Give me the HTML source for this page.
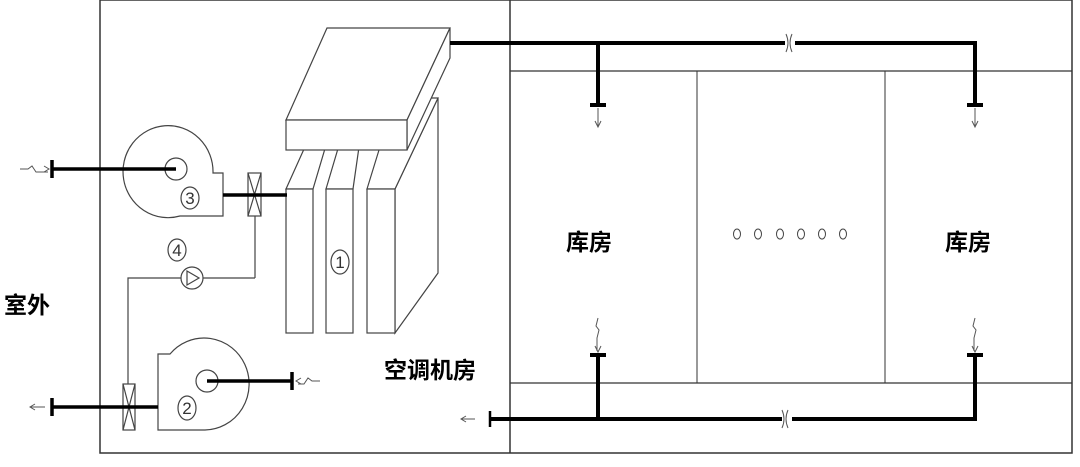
<!DOCTYPE html>
<html><head><meta charset="utf-8"><style>
body{margin:0;background:#fff;width:1080px;height:462px;overflow:hidden}
svg text{font-family:"Liberation Sans","Noto Sans CJK SC",sans-serif}
</style></head><body>
<svg width="1080" height="462" viewBox="0 0 1080 462" xmlns="http://www.w3.org/2000/svg">
<g fill="none" stroke="#333" stroke-width="1.5">
<rect x="100" y="0" width="972" height="453"/>
<line x1="510" y1="0" x2="510" y2="453"/>
<line x1="510" y1="71" x2="1072" y2="71" stroke-width="1.2"/>
<line x1="510" y1="383" x2="1072" y2="383" stroke-width="1.2"/>
<line x1="697" y1="71" x2="697" y2="383" stroke-width="1"/>
<line x1="885" y1="71" x2="885" y2="383" stroke-width="1"/>
</g>
<g fill="#fff" stroke="#444" stroke-width="1.2">
<polygon points="395,189 438,98 438,273 395,333"/>
<polygon points="286,189 327,98 340,98 313,189"/>
<polygon points="326,189 353,98 366,98 353,189"/>
<polygon points="367,189 395,98 438,98 395,189"/>
<rect x="286" y="189" width="27" height="144"/>
<rect x="326" y="189" width="27" height="144"/>
<rect x="367" y="189" width="28" height="144"/>
<polygon points="286,120 327,28 450,28 407,120"/>
<polygon points="407,120 450,28 450,58 407,150"/>
<rect x="286" y="120" width="121" height="30"/>
</g>
<g stroke="#000" stroke-width="4" fill="none">
<polyline points="450,43 975,43 975,105"/>
<line x1="598" y1="43" x2="598" y2="105"/>
<line x1="590" y1="105" x2="606" y2="105"/>
<line x1="967" y1="105" x2="983" y2="105"/>
<polyline points="490,419 975,419 975,355"/>
<line x1="598" y1="419" x2="598" y2="355"/>
<line x1="590" y1="355" x2="606" y2="355"/>
<line x1="967" y1="355" x2="983" y2="355"/>
<line x1="490" y1="411" x2="490" y2="427" stroke-width="2.5"/>
</g>
<g stroke="#fff" stroke-width="6"><line x1="785" y1="43" x2="795" y2="43"/><line x1="782" y1="419" x2="792" y2="419"/></g>
<g stroke="#555" stroke-width="1" fill="none">
<path d="M786,34 q4,9 0,18 M792,34 q-4,9 0,18"/>
<path d="M782,410 q4,9 0,18 M788,410 q-4,9 0,18"/>
<path d="M598,108 v18 M595,121 l3,6 3,-6"/>
<path d="M975,108 v18 M972,121 l3,6 3,-6"/>
<path d="M598,318 l-2,8 3,4 -2,8 v13 M595,346 l3,6 3,-6"/>
<path d="M975,318 l-2,8 3,4 -2,8 v13 M972,346 l3,6 3,-6"/>
<path d="M475,419 h-14 M466,416 l-5,3 5,3"/>
</g>
<g stroke="#444" stroke-width="1.2" fill="none">
<path d="M213,173 A45,46 0 1 0 180,216 L223,216 L223,173 Z"/>
<circle cx="176" cy="169" r="11"/>
<rect x="248" y="173" width="13" height="43"/>
<path d="M248,173 L261,216 M261,173 L248,216"/>
<line x1="255" y1="216" x2="255" y2="278"/>
<polyline points="255,278 128,278 128,384"/>
<circle cx="192" cy="278" r="11" fill="#fff"/>
<path d="M187,271 L199,278 187,285 Z"/>
<path d="M170,354 A45,46 0 1 1 205,430 L158,430 L158,354 Z"/>
<circle cx="207" cy="381" r="11"/>
<rect x="123" y="384" width="12" height="46"/>
<path d="M123,384 L135,430 M135,384 L123,430"/>
<ellipse cx="190" cy="198" rx="9" ry="11"/><ellipse cx="177" cy="250" rx="9" ry="11"/>
<ellipse cx="340" cy="262" rx="9" ry="12"/><ellipse cx="187" cy="408" rx="9" ry="12"/>
</g>
<g stroke="#000" stroke-width="3.5">
<line x1="52" y1="169" x2="176" y2="169"/><line x1="52" y1="160" x2="52" y2="178"/>
<line x1="223" y1="195" x2="287" y2="195"/>
<line x1="207" y1="381" x2="292" y2="381"/><line x1="292" y1="372" x2="292" y2="390"/>
<line x1="52" y1="407" x2="158" y2="407"/><line x1="52" y1="398" x2="52" y2="416"/>
</g>
<g stroke="#555" stroke-width="1" fill="none">
<path d="M20,169 h8 l4,-3 4,6 h12 M44,166 l5,3 -5,3"/>
<path d="M320,381 h-8 l-4,-3 -4,6 h-6 M301,378 l-5,3 5,3"/>
<path d="M45,407 h-15 M35,404 l-5,3 5,3"/>
</g>
<g font-size="17" fill="#333" text-anchor="middle">
<text x="190" y="204">3</text><text x="177" y="256">4</text>
<text x="340" y="268">1</text><text x="187" y="414">2</text>
</g>
<g fill="none" stroke="#444" stroke-width="1">
<ellipse cx="737" cy="234" rx="3.5" ry="5"/><ellipse cx="758" cy="234" rx="3.5" ry="5"/>
<ellipse cx="780" cy="234" rx="3.5" ry="5"/><ellipse cx="801" cy="234" rx="3.5" ry="5"/>
<ellipse cx="822" cy="234" rx="3.5" ry="5"/><ellipse cx="843" cy="234" rx="3.5" ry="5"/>
</g>
<g font-size="23" font-weight="bold" fill="#000">
<text x="566" y="250">库房</text><text x="945" y="250">库房</text>
<text x="384" y="378">空调机房</text><text x="4" y="313">室外</text>
</g>
</svg>
</body></html>
